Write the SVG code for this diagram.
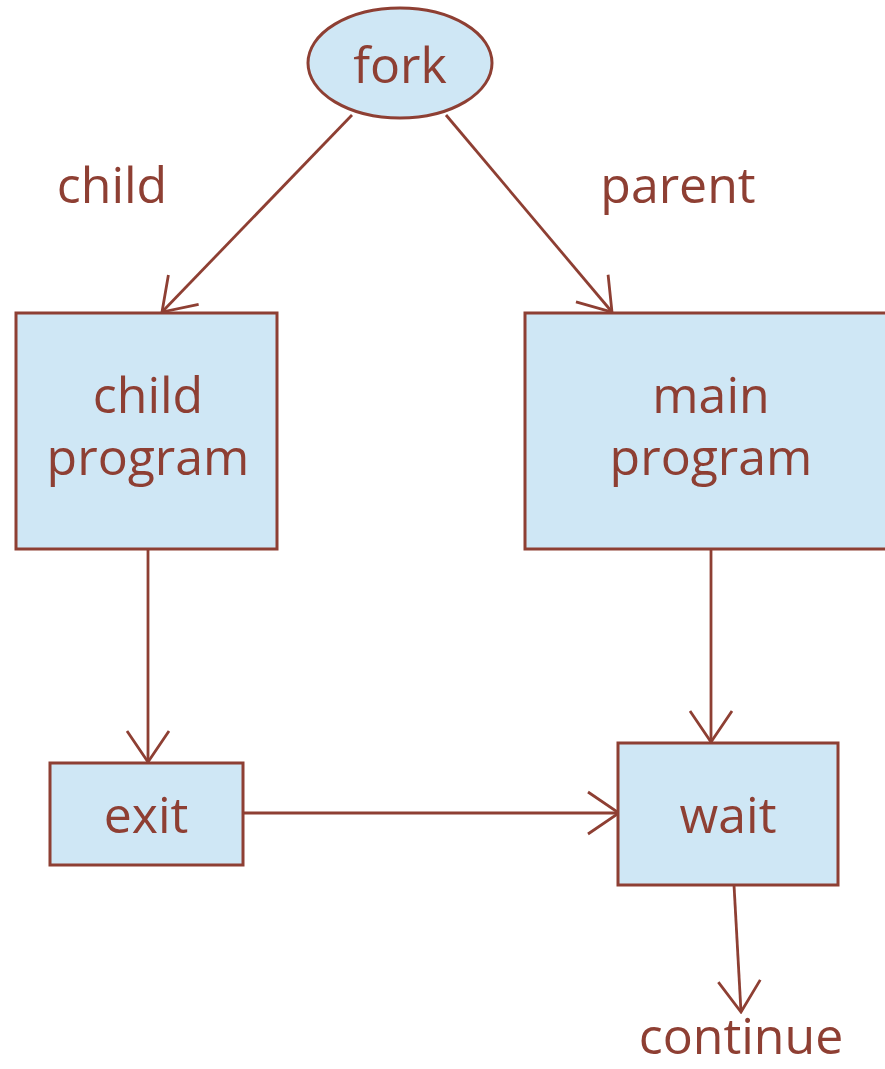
<svg xmlns="http://www.w3.org/2000/svg" width="885" height="1069" viewBox="0 0 885 1069">
  <style>
    .box { fill: #cfe7f5; stroke: #8e3f33; stroke-width: 3; }
    .edge { fill: none; stroke: #8e3f33; stroke-width: 2.8; marker-end: url(#vhead); }
    text { font-family: "Open Sans", "Noto Sans", sans-serif; font-size: 50px; fill: #8e3f33; text-anchor: middle; }
  </style>
  <defs>
    <!-- open V arrowhead, sized in user units -->
    <marker id="vhead" viewBox="-34 -25 36 50" refX="0" refY="0" markerWidth="36" markerHeight="50" markerUnits="userSpaceOnUse" orient="auto">
      <path d="M-31,-21 L0,0 L-31,21" fill="none" stroke="#8e3f33" stroke-width="2.8"/>
    </marker>
  </defs>
  <rect width="885" height="1069" fill="#ffffff"/>

  <g id="connectors">
    <line class="edge" x1="352" y1="115" x2="162" y2="312"/>
    <line class="edge" x1="446" y1="115" x2="612" y2="312"/>
    <line class="edge" x1="148" y1="549" x2="148" y2="762"/>
    <line class="edge" x1="711" y1="549" x2="711" y2="742"/>
    <line class="edge" x1="243" y1="813" x2="619" y2="813"/>
    <line class="edge" x1="734" y1="885" x2="741" y2="1012"/>
  </g>

  <g id="fork">
    <ellipse class="box" cx="400" cy="63" rx="92" ry="55"/>
    <text x="400" y="83">fork</text>
  </g>
  <g id="label-child">
    <text x="112" y="203">child</text>
  </g>
  <g id="label-parent">
    <text x="678" y="203">parent</text>
  </g>
  <g id="child-program">
    <rect class="box" x="16" y="313" width="261" height="236"/>
    <text x="148" y="413">child</text>
    <text x="148" y="475">program</text>
  </g>
  <g id="main-program">
    <rect class="box" x="525" y="313" width="362" height="236"/>
    <text x="711" y="413">main</text>
    <text x="711" y="475">program</text>
  </g>
  <g id="exit">
    <rect class="box" x="50" y="763" width="193" height="102"/>
    <text x="146" y="833">exit</text>
  </g>
  <g id="wait">
    <rect class="box" x="618" y="743" width="220" height="142"/>
    <text x="728" y="833">wait</text>
  </g>
  <g id="continue">
    <text x="741" y="1054">continue</text>
  </g>
</svg>
